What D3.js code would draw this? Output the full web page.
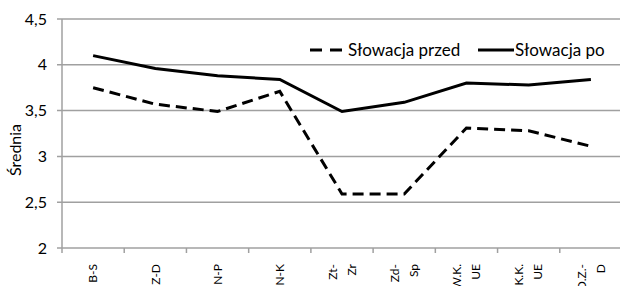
<!DOCTYPE html>
<html>
<head>
<meta charset="utf-8">
<script src="https://cdn.jsdelivr.net/npm/d3@7"></script>
<style>
  body { margin: 0; background: #fff; }
  svg text { font-family: Lato, "Open Sans", sans-serif; fill: #000; }
</style>
</head>
<body>
<svg id="chart"></svg>
<script>
const width = 620;
const height = 286;
const margin = { top: 19, right: -2, bottom: 38, left: 62 };

// categories (wrapped labels as in the original)
const categories = ['B-S', 'Z-D', 'N-P', 'N-K', 'Zt-Zr', 'Zd-Sp', 'W.K.UE', 'K.K.UE', 'O.Z.-D'];
const categoryLines = [['B-S'], ['Z-D'], ['N-P'], ['N-K'], ['Zt-', 'Zr'], ['Zd-', 'Sp'], ['W.K.', 'UE'], ['K.K.', 'UE'], ['O.Z.-', 'D']];
const przed = [3.75, 3.57, 3.49, 3.71, 2.59, 2.59, 3.31, 3.28, 3.11];
const po = [4.1, 3.96, 3.88, 3.84, 3.49, 3.59, 3.8, 3.78, 3.84];
const yTicks = [2, 2.5, 3, 3.5, 4, 4.5];

const svg = d3.select('#chart')
    .attr('width', width)
    .attr('height', height);

const x = d3.scaleBand()
    .domain(categories)
    .range([margin.left, width - margin.right])
    .padding(0);

const y = d3.scaleLinear()
    .domain([2, 4.5])
    .range([height - margin.bottom, margin.top]);

const fmt = d => String(d).replace('.', ',');

// gridlines
svg.append('g')
    .selectAll('line')
    .data(yTicks)
    .enter()
    .append('line')
    .attr('x1', margin.left - 5)
    .attr('x2', width - margin.right)
    .attr('y1', d => y(d))
    .attr('y2', d => y(d))
    .attr('stroke', '#a0a0a0')
    .attr('stroke-width', 1.5);

// y axis line
svg.append('line')
    .attr('x1', margin.left)
    .attr('x2', margin.left)
    .attr('y1', y(4.5))
    .attr('y2', y(2))
    .attr('stroke', '#a0a0a0')
    .attr('stroke-width', 1.5);

// y tick labels
svg.append('g')
    .selectAll('text')
    .data(yTicks)
    .enter()
    .append('text')
    .attr('x', margin.left - 15)
    .attr('y', d => y(d))
    .attr('dy', '0.35em')
    .attr('text-anchor', 'end')
    .style('font-size', '16px')
    .text(fmt);

// y title
svg.append('text')
    .attr('transform', 'translate(21,150) rotate(-90)')
    .attr('text-anchor', 'middle')
    .style('font-size', '16px')
    .text('Średnia');

// x tick marks at band edges
const edges = categories.map(c => x(c)).concat([x(categories[categories.length - 1]) + x.bandwidth()]);
svg.append('g')
    .selectAll('line')
    .data(edges)
    .enter()
    .append('line')
    .attr('x1', d => d)
    .attr('x2', d => d)
    .attr('y1', y(2))
    .attr('y2', y(2) + 5)
    .attr('stroke', '#a0a0a0')
    .attr('stroke-width', 1.5);

// x labels, rotated
const lineGap = 19;
const xLabels = svg.append('g')
    .selectAll('text')
    .data(categories)
    .enter()
    .append('text')
    .attr('transform', d => `translate(${x(d) + x.bandwidth() / 2},${y(2) + 16}) rotate(-90)`)
    .attr('text-anchor', 'end')
    .style('font-size', '12px');

xLabels.each(function(d, i) {
    const lines = categoryLines[i];
    const offset = -(lines.length - 1) * lineGap / 2;
    d3.select(this).selectAll('tspan')
        .data(lines)
        .enter()
        .append('tspan')
        .attr('x', 0)
        .attr('y', (l, j) => offset + j * lineGap)
        .attr('dy', '0.35em')
        .text(l => l);
});

// lines
const line = d3.line()
    .x((d, i) => x(categories[i]) + x.bandwidth() / 2)
    .y(d => y(d));

svg.append('path')
    .datum(przed)
    .attr('d', line)
    .attr('fill', 'none')
    .attr('stroke', '#000')
    .attr('stroke-width', 3)
    .attr('stroke-dasharray', '11,6');

svg.append('path')
    .datum(po)
    .attr('d', line)
    .attr('fill', 'none')
    .attr('stroke', '#000')
    .attr('stroke-width', 3);

// legend
const legend = svg.append('g').attr('transform', 'translate(310,50)');
legend.append('line')
    .attr('x1', 0).attr('x2', 33).attr('y1', 0).attr('y2', 0)
    .attr('stroke', '#000').attr('stroke-width', 3)
    .attr('stroke-dasharray', '12,8');
legend.append('text')
    .attr('x', 38).attr('y', 0).attr('dy', '0.35em')
    .style('font-size', '17px')
    .text('Słowacja przed');
legend.append('line')
    .attr('x1', 168).attr('x2', 204).attr('y1', 0).attr('y2', 0)
    .attr('stroke', '#000').attr('stroke-width', 3);
legend.append('text')
    .attr('x', 205).attr('y', 0).attr('dy', '0.35em')
    .style('font-size', '17px')
    .text('Słowacja po');
</script>
</body>
</html>
